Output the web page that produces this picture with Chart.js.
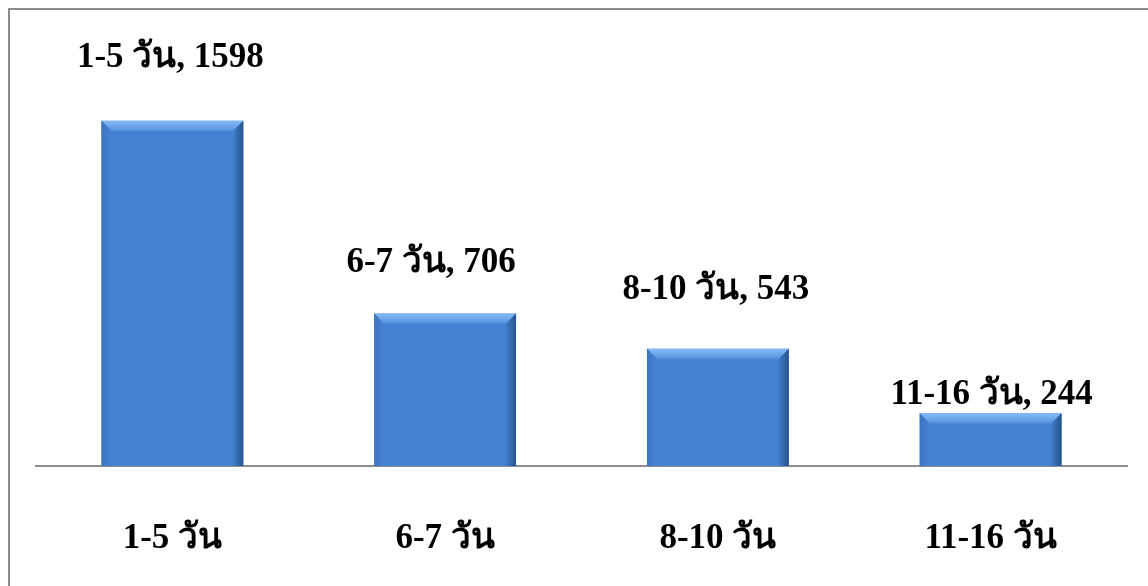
<!DOCTYPE html>
<html>
<head>
<meta charset="utf-8">
<script src="https://cdn.jsdelivr.net/npm/chart.js@4.4.1/dist/chart.umd.min.js"></script>
<style>
  body { margin: 0; background: #ffffff; }
  canvas { display: block; }
</style>
</head>
<body>
<canvas id="myChart" width="1148" height="586"></canvas>
<script>
// data
const categories = ['1-5 วัน', '6-7 วัน', '8-10 วัน', '11-16 วัน'];
const counts = [1598, 706, 543, 244];

// label placement (baseline distance above bar top, x shift)
const labelLift = [54, 41, 50, 9];
const labelShift = [-2, -14, -2, 1];

const fontFamily = "'Liberation Serif', 'Times New Roman', serif";

const frame = {
    id: 'frame',
    beforeDraw(chart) {
        const ctx = chart.ctx;
        ctx.save();
        ctx.fillStyle = '#ffffff';
        ctx.fillRect(0, 0, chart.width, chart.height);
        ctx.strokeStyle = '#8c8c8c';
        ctx.lineWidth = 2;
        ctx.strokeRect(9, 9, chart.width + 20, chart.height + 20);
        ctx.restore();
    }
};

// bevel look on each bar, plus the data labels
const bevel = {
    id: 'bevel',
    afterDatasetsDraw(chart) {
        const ctx = chart.ctx;
        const meta = chart.getDatasetMeta(0);
        meta.data.forEach(function (bar, i) {
            const l = bar.x - bar.width / 2;
            const r = bar.x + bar.width / 2;
            const t = bar.y;
            const b = bar.base;
            const d = 10;
            ctx.save();
            // top face
            let g = ctx.createLinearGradient(0, t, 0, t + d);
            g.addColorStop(0, '#86bcf6');
            g.addColorStop(1, '#5893de');
            ctx.fillStyle = g;
            ctx.beginPath();
            ctx.moveTo(l, t); ctx.lineTo(r, t); ctx.lineTo(r - d, t + d); ctx.lineTo(l + d, t + d);
            ctx.closePath(); ctx.fill();
            // left face
            g = ctx.createLinearGradient(l, 0, l + d, 0);
            g.addColorStop(0, '#3a74c2');
            g.addColorStop(1, '#4684d3');
            ctx.fillStyle = g;
            ctx.beginPath();
            ctx.moveTo(l, t); ctx.lineTo(l + d, t + d); ctx.lineTo(l + d, b); ctx.lineTo(l, b);
            ctx.closePath(); ctx.fill();
            // right face
            g = ctx.createLinearGradient(r - d, 0, r, 0);
            g.addColorStop(0, '#3f7cc9');
            g.addColorStop(1, '#27538e');
            ctx.fillStyle = g;
            ctx.beginPath();
            ctx.moveTo(r, t); ctx.lineTo(r - d, t + d); ctx.lineTo(r - d, b); ctx.lineTo(r, b);
            ctx.closePath(); ctx.fill();
            ctx.restore();

            ctx.save();
            ctx.font = 'bold 35px ' + fontFamily;
            ctx.fillStyle = '#000000';
            ctx.textAlign = 'center';
            ctx.textBaseline = 'alphabetic';
            ctx.fillText(categories[i] + ', ' + counts[i], bar.x + labelShift[i], t - labelLift[i]);
            ctx.restore();
        });
    }
};

let myChart = document.getElementById('myChart').getContext('2d');

let barChart = new Chart(myChart, {
    type: 'bar',
    data: {
        labels: categories,
        datasets: [{
            data: counts,
            backgroundColor: '#4382d2',
            borderWidth: 0,
            categoryPercentage: 1,
            barPercentage: 0.52
        }]
    },
    options: {
        responsive: false,
        animation: false,
        layout: {
            padding: { left: 36, right: 21, top: 77, bottom: 0 }
        },
        plugins: {
            legend: { display: false },
            tooltip: { enabled: false }
        },
        scales: {
            x: {
                grid: { display: false },
                border: { display: true, color: '#8e8e8e', width: 2 },
                ticks: {
                    color: '#000000',
                    padding: 44,
                    font: { family: fontFamily, size: 35, weight: 'bold' }
                },
                afterFit: function (scale) {
                    scale.height = 120;
                }
            },
            y: {
                display: false,
                min: 0,
                max: 1800
            }
        }
    },
    plugins: [frame, bevel]
});
</script>
</body>
</html>
